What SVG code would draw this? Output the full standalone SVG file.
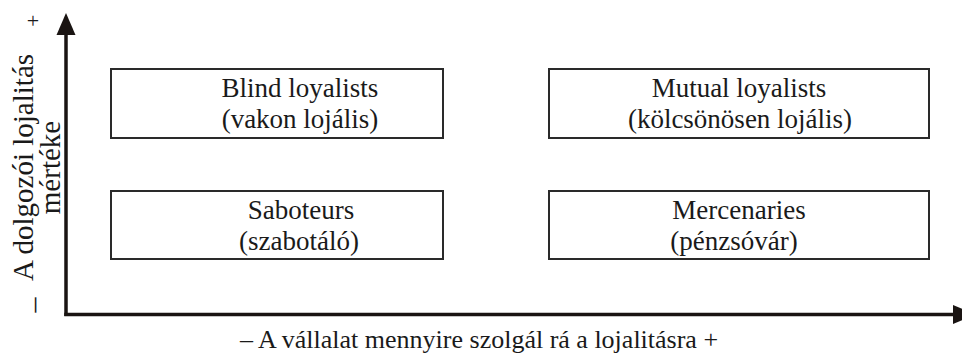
<svg xmlns="http://www.w3.org/2000/svg" width="962" height="354" viewBox="0 0 962 354">
<style>
  .box { fill: #ffffff; stroke: #2a2a2a; stroke-width: 2; }
  .ax { stroke: #1a1412; stroke-width: 3.5; fill: none; }
  .ah { fill: #1a1412; }
  text { fill: #1a1a1a; text-anchor: middle; font-size: 27px; }
</style>
<rect width="962" height="354" fill="#ffffff"/>
<g id="axes">
  <line class="ax" x1="66" y1="316" x2="66" y2="30"/>
  <polygon class="ah" points="66,13 56.5,35 75.5,35"/>
  <line class="ax" x1="64.25" y1="314.5" x2="956" y2="314.5"/>
  <polygon class="ah" points="953,305 953,324 976,314.5"/>
</g>
<g id="blind">
  <rect class="box" x="111" y="69" width="332" height="69"/>
  <text font-family="Liberation Serif" x="300" y="97">Blind loyalists</text>
  <text font-family="Liberation Serif" x="300" y="128">(vakon lojális)</text>
</g>
<g id="mutual">
  <rect class="box" x="549" y="69" width="380" height="69"/>
  <text font-family="Liberation Serif" x="739" y="97">Mutual loyalists</text>
  <text font-family="Liberation Serif" x="740" y="128">(kölcsönösen lojális)</text>
</g>
<g id="saboteurs">
  <rect class="box" x="111" y="191" width="332" height="68"/>
  <text font-family="Liberation Serif" x="301" y="219">Saboteurs</text>
  <text font-family="Liberation Serif" x="299" y="250">(szabotáló)</text>
</g>
<g id="mercenaries">
  <rect class="box" x="549" y="191" width="380" height="68"/>
  <text font-family="Liberation Serif" x="739" y="219">Mercenaries</text>
  <text font-family="Liberation Serif" x="734" y="250">(pénzsóvár)</text>
</g>
<g id="labels">
  <text font-family="Liberation Serif" style="font-size:29px" x="33" y="167.5" transform="rotate(-90 33 167.5)">A dolgozói lojalitás</text>
  <text font-family="Liberation Serif" style="font-size:29px" x="60" y="167.5" transform="rotate(-90 60 167.5)">mértéke</text>
  <text font-family="Liberation Serif" style="font-size:22px" x="33" y="27.5">+</text>
  <text font-family="Liberation Serif" style="font-size:30px" x="43" y="305" transform="rotate(-90 43 305)">–</text>
  <text font-family="Liberation Serif" style="font-size:26px" x="479" y="348">– A vállalat mennyire szolgál rá a lojalitásra +</text>
</g>
</svg>
